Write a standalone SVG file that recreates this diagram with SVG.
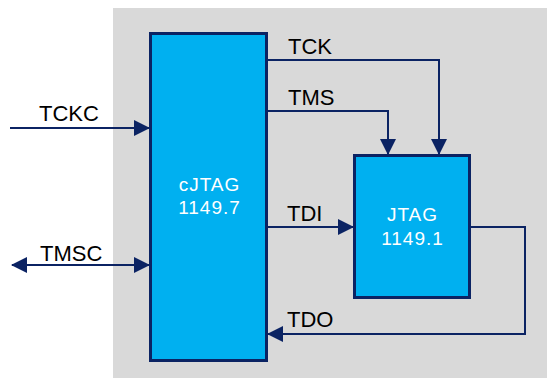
<svg xmlns="http://www.w3.org/2000/svg" width="547" height="378" viewBox="0 0 547 378">
<defs>
<marker id="arr" markerUnits="userSpaceOnUse" markerWidth="16" markerHeight="16" viewBox="0 0 16 16" refX="15" refY="8" orient="auto-start-reverse">
<path d="M0,0 L16,8 L0,16 Z" fill="#0b2363"/>
</marker>
<style>
.box{fill:#00b0f0;stroke:#0b2363;stroke-width:3}
.wire{fill:none;stroke:#0b2363;stroke-width:2}
.lbl{font-family:"Liberation Sans",Arial,sans-serif;font-size:22px;fill:#000}
.in{font-family:"Liberation Sans",Arial,sans-serif;font-size:19px;fill:#fff;text-anchor:middle;letter-spacing:1px}
</style>
</defs>
<rect x="113" y="8" width="434" height="370" fill="#d9d9d9"/>
<g id="connectors">
<path class="wire" d="M10 128 H149" marker-end="url(#arr)"/>
<path class="wire" d="M12 265 H149" marker-start="url(#arr)" marker-end="url(#arr)"/>
<path class="wire" d="M268 60 H439 V154" marker-end="url(#arr)"/>
<path class="wire" d="M268 111 H388 V154" marker-end="url(#arr)"/>
<path class="wire" d="M268 227 H353" marker-end="url(#arr)"/>
<path class="wire" d="M471 227 H525 V334 H268" marker-end="url(#arr)"/>
<text class="lbl" x="39" y="121">TCKC</text>
<text class="lbl" x="40" y="261">TMSC</text>
<text class="lbl" x="288" y="54">TCK</text>
<text class="lbl" x="288" y="105">TMS</text>
<text class="lbl" x="287" y="221">TDI</text>
<text class="lbl" x="287" y="327">TDO</text>
</g>
<g id="cjtag">
<rect class="box" x="150.5" y="33.5" width="116" height="327"/>
<text class="in" x="209.5" y="191">cJTAG</text>
<text class="in" x="209.5" y="214">1149.7</text>
</g>
<g id="jtag">
<rect class="box" x="354.5" y="155.5" width="115" height="142"/>
<text class="in" x="412.5" y="221">JTAG</text>
<text class="in" x="412.5" y="245">1149.1</text>
</g>
</svg>
